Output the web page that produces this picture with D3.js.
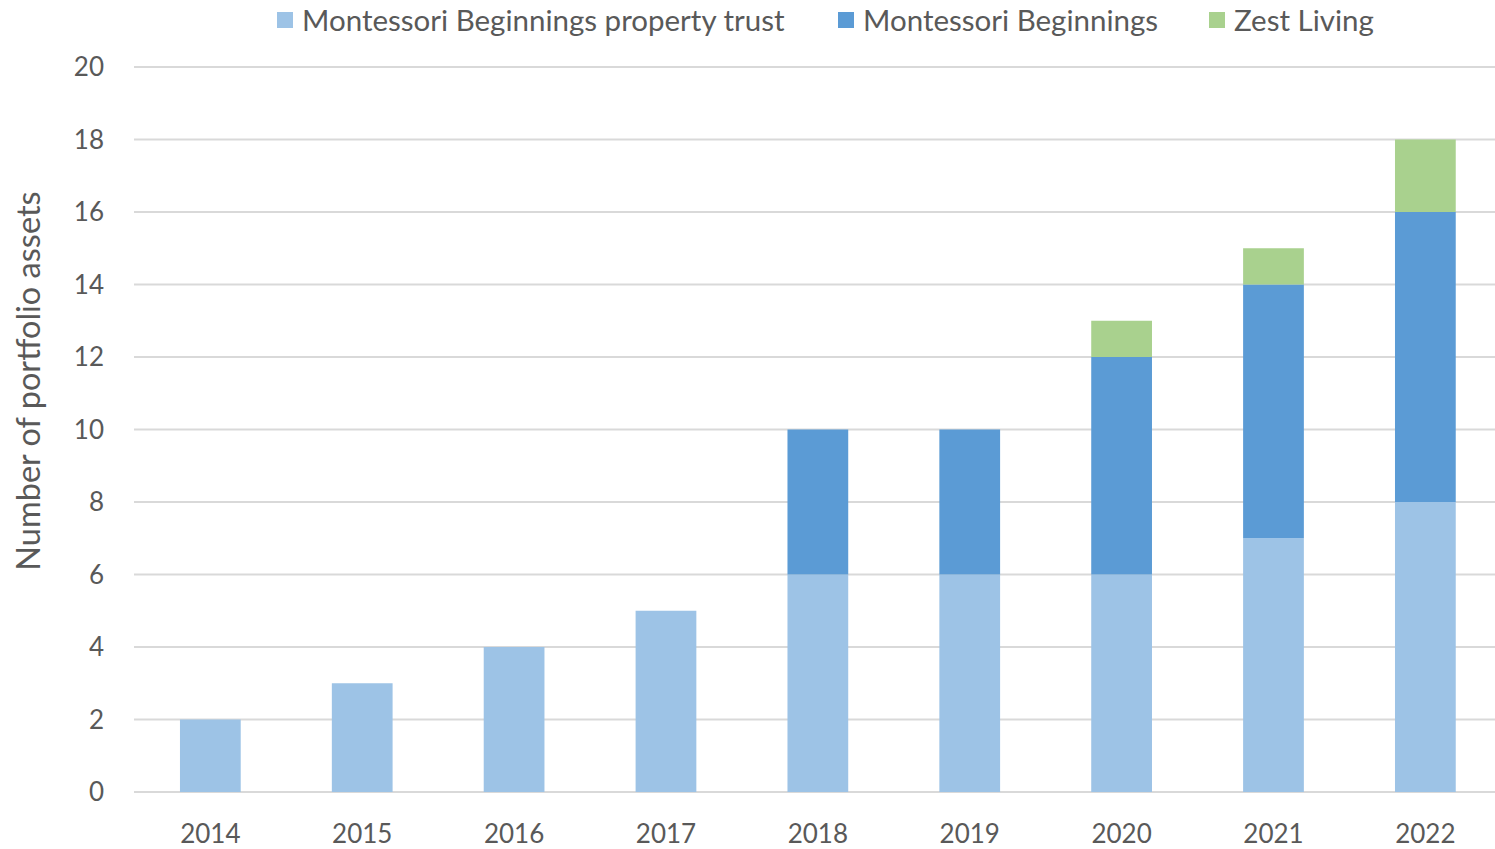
<!DOCTYPE html>
<html><head><meta charset="utf-8">
<script src="https://cdn.jsdelivr.net/npm/d3@7"></script>
<style>body{margin:0;background:#fff}svg{display:block}text{font-family:Lato,"Noto Sans",sans-serif;fill:#595959}</style>
</head><body><svg id="c" width="1495" height="849"></svg>
<script>
const years = ["2014","2015","2016","2017","2018","2019","2020","2021","2022"];
const trust = [2,3,4,5,6,6,6,7,8];
const beginnings = [0,0,0,0,4,4,6,7,8];
const zest = [0,0,0,0,0,0,1,1,2];
const seriesNames = ["Montessori Beginnings property trust","Montessori Beginnings","Zest Living"];
const colors = ["#9DC3E6","#5B9BD5","#A9D18E"];
const yTicks = [0,2,4,6,8,10,12,14,16,18,20];

const svg = d3.select("#c");
const m = {l:134.4, r:1501.3, t:67, b:792};
const x = d3.scaleBand().domain(years).range([m.l,m.r]).paddingInner(0.6).paddingOuter(0.3);
const y = d3.scaleLinear().domain([0,20]).range([m.b,m.t]);

svg.append("g").selectAll("line").data(yTicks).join("line")
  .attr("x1",134).attr("x2",1495).attr("y1",d=>y(d)).attr("y2",d=>y(d))
  .attr("stroke","#D9D9D9").attr("stroke-width",2);

const rows = years.map((yr,i)=>({year:yr, s0:trust[i], s1:beginnings[i], s2:zest[i]}));
const stack = d3.stack().keys(["s0","s1","s2"])(rows);
svg.append("g").selectAll("g").data(stack).join("g").attr("fill",(d,i)=>colors[i])
  .selectAll("rect").data(d=>d.filter(p=>p[1]>p[0])).join("rect")
  .attr("x",d=>x(d.data.year)).attr("width",x.bandwidth())
  .attr("y",d=>y(d[1])).attr("height",d=>y(d[0])-y(d[1]));

svg.append("g").selectAll("text").data(yTicks).join("text")
  .attr("x",104).attr("y",d=>y(d)).attr("dy","0.35em").attr("text-anchor","end")
  .attr("font-size",26).text(d=>d);
svg.append("g").selectAll("text").data(years).join("text")
  .attr("x",d=>x(d)+x.bandwidth()/2).attr("y",843).attr("text-anchor","middle")
  .attr("font-size",26).text(d=>d);
svg.append("text").attr("transform","translate(40,381) rotate(-90)").attr("text-anchor","middle")
  .attr("font-size",32.5).text("Number of portfolio assets");
const legX = [277,838,1209];
const lg = svg.append("g").selectAll("g").data(seriesNames).join("g")
  .attr("transform",(d,i)=>`translate(${legX[i]},0)`);
lg.append("rect").attr("x",0).attr("y",12).attr("width",16).attr("height",16).attr("fill",(d,i)=>colors[i]);
lg.append("text").attr("x",25).attr("y",31).attr("font-size",29.5).text(d=>d);
</script></body></html>
